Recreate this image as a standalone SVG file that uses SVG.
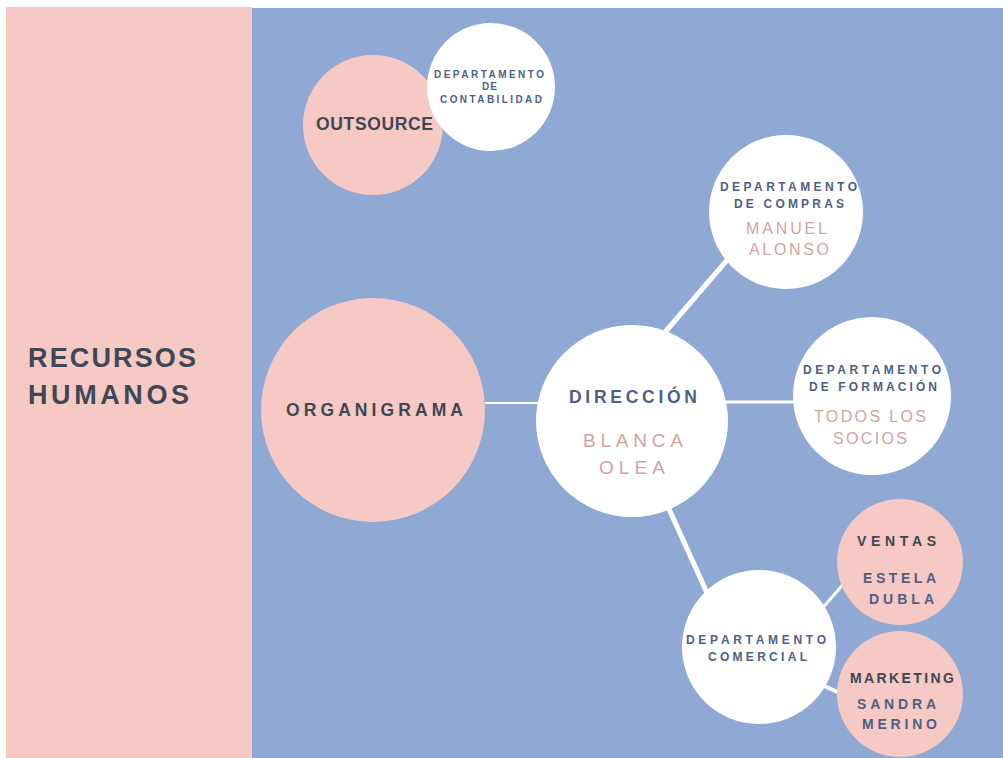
<svg xmlns="http://www.w3.org/2000/svg" width="1003" height="758" viewBox="0 0 1003 758">
<style>
.pink{fill:#f6c9c4}
.white{fill:#ffffff}
.t{font-family:"Liberation Sans",Arial,sans-serif;font-weight:bold}
.n{font-family:"Liberation Sans",Arial,sans-serif;font-weight:normal}
.dark{fill:#3e4755}
.blue{fill:#4e5f85}
.rose{fill:#d3a39e}
.conn{stroke:#ffffff;fill:none;stroke-linecap:butt}
</style>
<rect x="0" y="0" width="1003" height="758" fill="#ffffff"/>
<rect x="6" y="7" width="246" height="751" class="pink"/>
<rect x="252" y="8" width="751" height="750" fill="#8fa8d4"/>
<g id="title">
<text x="28" y="367" class="t dark" font-size="27" textLength="168" lengthAdjust="spacing">RECURSOS</text>
<text x="28" y="404" class="t dark" font-size="27" textLength="161" lengthAdjust="spacing">HUMANOS</text>
</g>
<g id="connectors">
<line x1="485" y1="403" x2="540" y2="403" class="conn" stroke-width="2"/>
<line x1="660" y1="338" x2="728" y2="259" class="conn" stroke-width="5"/>
<line x1="720" y1="402" x2="796" y2="402" class="conn" stroke-width="3"/>
<line x1="664" y1="498" x2="708" y2="595" class="conn" stroke-width="5"/>
<line x1="820" y1="611" x2="846" y2="581" class="conn" stroke-width="3"/>
<line x1="822" y1="685" x2="842" y2="694" class="conn" stroke-width="4"/>
</g>
<g id="outsource">
<circle cx="373" cy="125" r="70" class="pink"/>
<text x="316" y="130" class="t dark" font-size="17.5" textLength="117" lengthAdjust="spacing">OUTSOURCE</text>
</g>
<g id="contabilidad">
<circle cx="491" cy="87" r="64" class="white"/>
<text x="434" y="78" class="t blue" font-size="10" textLength="110" lengthAdjust="spacing">DEPARTAMENTO</text>
<text x="482" y="90" class="t blue" font-size="10" textLength="15" lengthAdjust="spacing">DE</text>
<text x="440" y="103" class="t blue" font-size="10" textLength="102" lengthAdjust="spacing">CONTABILIDAD</text>
</g>
<g id="organigrama">
<circle cx="373" cy="410" r="112" class="pink"/>
<text x="286" y="416" class="t dark" font-size="17.5" textLength="177" lengthAdjust="spacing">ORGANIGRAMA</text>
</g>
<g id="direccion">
<circle cx="632" cy="421" r="96" class="white"/>
<text x="569" y="403" class="t blue" font-size="17.5" textLength="128" lengthAdjust="spacing">DIRECCIÓN</text>
<text x="583" y="447" class="n rose" font-size="19" textLength="100" lengthAdjust="spacing">BLANCA</text>
<text x="599" y="474" class="n rose" font-size="19" textLength="66" lengthAdjust="spacing">OLEA</text>
</g>
<g id="compras">
<circle cx="786" cy="212" r="77" class="white"/>
<text x="720" y="191" class="t blue" font-size="12" textLength="137" lengthAdjust="spacing">DEPARTAMENTO</text>
<text x="734" y="208" class="t blue" font-size="12" textLength="110" lengthAdjust="spacing">DE COMPRAS</text>
<text x="746" y="234" class="n rose" font-size="16" textLength="81" lengthAdjust="spacing">MANUEL</text>
<text x="749" y="255" class="n rose" font-size="16" textLength="80" lengthAdjust="spacing">ALONSO</text>
</g>
<g id="formacion">
<circle cx="872" cy="396" r="79" class="white"/>
<text x="803" y="374" class="t blue" font-size="12" textLength="138" lengthAdjust="spacing">DEPARTAMENTO</text>
<text x="809" y="391" class="t blue" font-size="12" textLength="128" lengthAdjust="spacing">DE FORMACIÓN</text>
<text x="814" y="422" class="n rose" font-size="16" textLength="112" lengthAdjust="spacing">TODOS LOS</text>
<text x="833" y="444" class="n rose" font-size="16" textLength="74" lengthAdjust="spacing">SOCIOS</text>
</g>
<g id="comercial">
<circle cx="759" cy="647" r="77" class="white"/>
<text x="686" y="644" class="t blue" font-size="12" textLength="140" lengthAdjust="spacing">DEPARTAMENTO</text>
<text x="708" y="661" class="t blue" font-size="12" textLength="99" lengthAdjust="spacing">COMERCIAL</text>
</g>
<g id="ventas">
<circle cx="900" cy="562" r="63" class="pink"/>
<text x="857" y="546" class="t dark" font-size="14" textLength="79" lengthAdjust="spacing">VENTAS</text>
<text x="863" y="583" class="t blue" font-size="14" textLength="73" lengthAdjust="spacing">ESTELA</text>
<text x="869" y="604" class="t blue" font-size="14" textLength="65" lengthAdjust="spacing">DUBLA</text>
</g>
<g id="marketing">
<circle cx="900" cy="694" r="63" class="pink"/>
<text x="850" y="683" class="t dark" font-size="14" textLength="104" lengthAdjust="spacing">MARKETING</text>
<text x="857" y="709" class="t blue" font-size="14" textLength="79" lengthAdjust="spacing">SANDRA</text>
<text x="862" y="729" class="t blue" font-size="14" textLength="75" lengthAdjust="spacing">MERINO</text>
</g>
</svg>
